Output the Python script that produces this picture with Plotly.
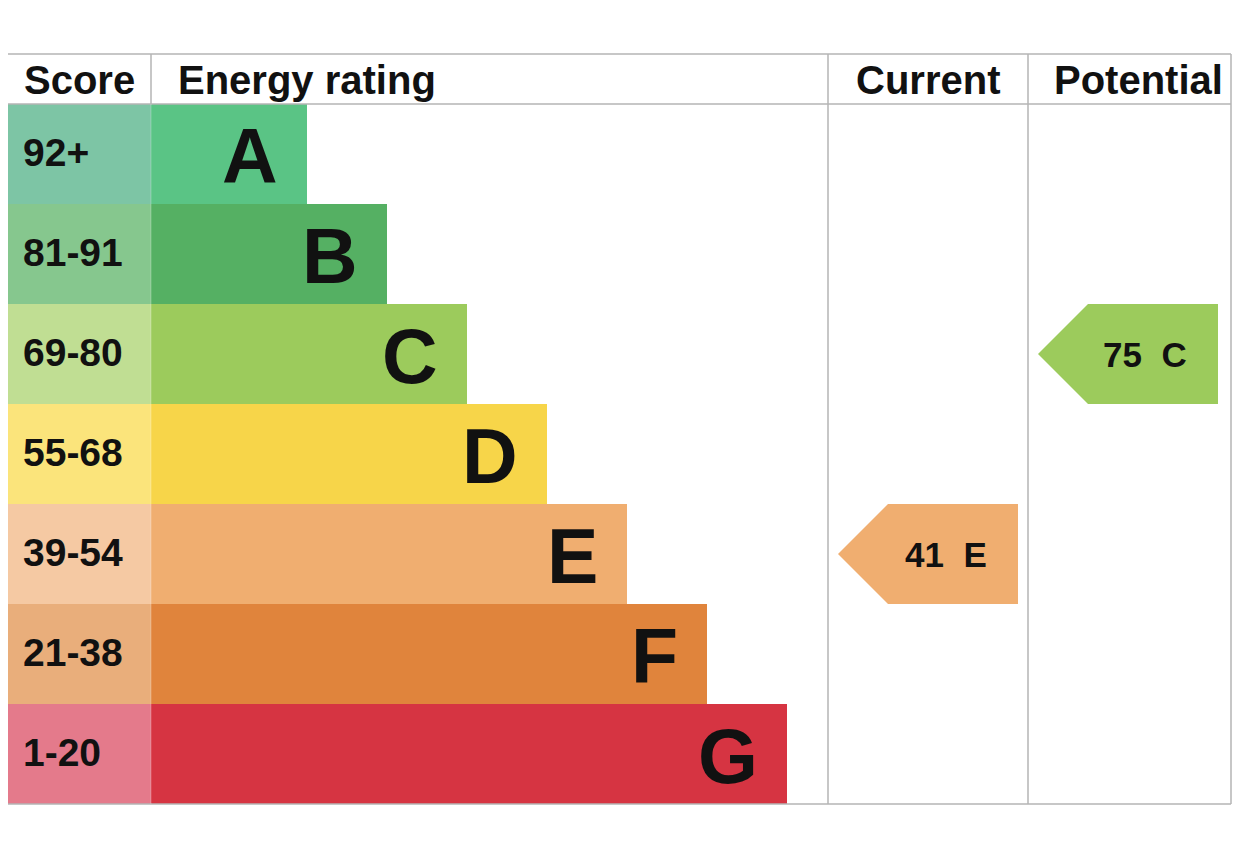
import plotly.graph_objects as go

# ---- data ----
bands = ["A", "B", "C", "D", "E", "F", "G"]
score_labels = ["92+", "81-91", "69-80", "55-68", "39-54", "21-38", "1-20"]
band_min = [92, 81, 69, 55, 39, 21, 1]
bar_colors = ["#5ac485", "#55b063", "#9ccb5c", "#f7d549", "#f0ae70", "#e0843c", "#d63442"]
score_colors = ["#7dc5a5", "#86c78e", "#c0de93", "#fbe47b", "#f5c9a3", "#e9ae7b", "#e47a8b"]
current_score = 41
potential_score = 75
headers = ["Score", "Energy rating", "Current", "Potential"]

# ---- layout constants (page-pixel x units, row units on y) ----
X0, XS, XB, XC, X1 = 7, 151, 828, 1028, 1231
BAR_FIRST, BAR_STEP = 156, 80
ARROW_W, ARROW_TIP, ARROW_PAD = 190, 10, 50
FONT = "Liberation Sans, Arial, sans-serif"
GRID = "#b5b5b5"
OFF = 8  # page body margin
W, H = 1232, 834


def band_index(score):
    for i, m in enumerate(band_min):
        if score >= m:
            return i
    return len(band_min) - 1


fig = go.Figure()

n = len(bands)
fig.add_trace(go.Bar(
    orientation="h", y=list(range(n)), x=[XS - X0] * n, base=X0, width=1.0,
    marker=dict(color=score_colors, line=dict(width=0)), hoverinfo="skip", showlegend=False))
fig.add_trace(go.Bar(
    orientation="h", y=list(range(n)), x=[BAR_FIRST + BAR_STEP * i for i in range(n)],
    base=XS, width=1.0,
    marker=dict(color=bar_colors, line=dict(width=0)), hoverinfo="skip", showlegend=False))

annotations = []
for i in range(n):
    annotations.append(dict(x=21, y=i - 0.02, xref="x", yref="y", text=score_labels[i], showarrow=False,
                            xanchor="left", yanchor="middle",
                            font=dict(family=FONT, size=39, color="#111111", weight="bold")))
    end = XS + BAR_FIRST + BAR_STEP * i
    annotations.append(dict(x=end - 27, y=i + 0.02, xref="x", yref="y", text=bands[i], showarrow=False,
                            xanchor="right", yanchor="middle",
                            font=dict(family=FONT, size=77, color="#111111", weight="bold")))

for score, left in [(current_score, XB), (potential_score, XC)]:
    i = band_index(score)
    tip = left + ARROW_TIP
    rx = left + ARROW_W
    fig.add_trace(go.Scatter(
        x=[tip, tip + ARROW_PAD, rx, rx, tip + ARROW_PAD, tip],
        y=[i, i - 0.5, i - 0.5, i + 0.5, i + 0.5, i],
        fill="toself", fillcolor=bar_colors[i], mode="lines", line=dict(width=0),
        hoverinfo="skip", showlegend=False))
    annotations.append(dict(x=rx - 29, y=i, xref="x", yref="y",
                            text=f"{score}  {bands[i]}", showarrow=False,
                            xanchor="right", yanchor="middle",
                            font=dict(family=FONT, size=35, color="#111111", weight="bold")))

hx = [(X0 + XS) / 2, XS + 25, (XB + XC) / 2, XC + 110]
hanchor = ["center", "left", "center", "center"]
for t, x, a in zip(headers, hx, hanchor):
    annotations.append(dict(x=x, y=-0.74, xref="x", yref="y", text=t, showarrow=False,
                            xanchor=a, yanchor="middle",
                            font=dict(family=FONT, size=40, color="#111111", weight="bold")))

shapes = []
line = dict(color=GRID, width=1.5)
for yv in [-1.0, -0.5, n - 0.5]:
    shapes.append(dict(type="line", xref="x", yref="y", x0=X0, x1=X1, y0=yv, y1=yv,
                       line=line, layer="above"))
for xv in [X0, XB, XC, X1]:
    shapes.append(dict(type="line", xref="x", yref="y", x0=xv, x1=xv, y0=-1.0, y1=n - 0.5,
                       line=line, layer="above"))
shapes.append(dict(type="line", xref="x", yref="y", x0=XS, x1=XS, y0=-1.0, y1=-0.5, line=line, layer="above"))
shapes.append(dict(type="line", xref="x", yref="y", x0=XS, x1=XS, y0=-0.5, y1=n - 0.5,
                   line=dict(color="rgba(255,255,255,0.25)", width=1), layer="above"))

fig.update_layout(
    width=W, height=H, margin=dict(l=0, r=0, t=0, b=0),
    paper_bgcolor="white", plot_bgcolor="white",
    barmode="overlay", bargap=0,
    xaxis=dict(range=[OFF, W + OFF], visible=False, fixedrange=True),
    yaxis=dict(range=[(H + OFF - 154) / 100, (OFF - 154) / 100], visible=False, fixedrange=True),
    annotations=annotations, shapes=shapes,
)

fig.write_html("out.html")
